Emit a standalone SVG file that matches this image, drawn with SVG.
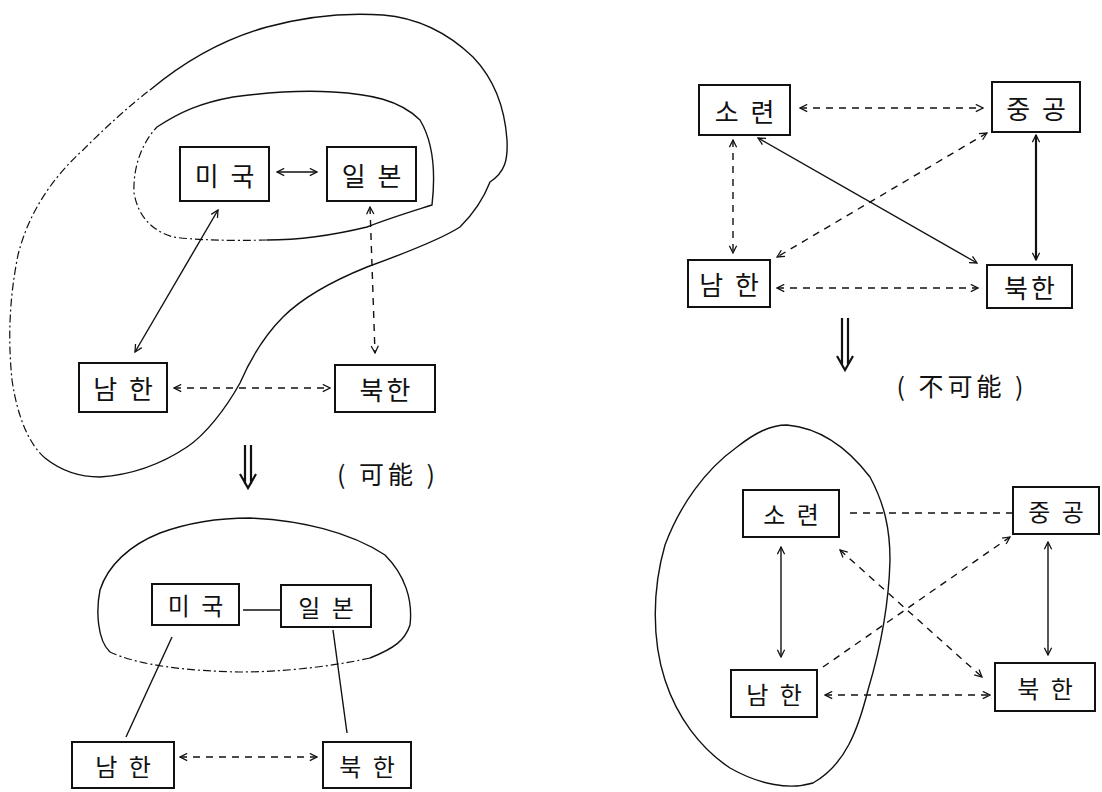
<svg xmlns="http://www.w3.org/2000/svg" width="1102" height="792" viewBox="0 0 1102 792">
<style>
.box{fill:#fff;stroke:#111;stroke-width:2}
.t{font-family:"Noto Sans CJK KR","Noto Sans CJK SC",sans-serif;font-size:26px;fill:#111;text-anchor:middle;dominant-baseline:central;letter-spacing:3px}
.ts{font-size:24px}
.s{stroke:#111;stroke-width:1.4;fill:none}
.d{stroke:#111;stroke-width:1.4;fill:none;stroke-dasharray:7 6}
.th{stroke-width:2.2}
.loop{stroke:#111;stroke-width:1.4;fill:none}
.loopd{stroke:#111;stroke-width:1.2;fill:none;stroke-dasharray:8 3 2 3}
.lbl{font-family:"Noto Sans CJK KR","Noto Sans CJK SC",sans-serif;font-size:25px;fill:#111;text-anchor:middle;dominant-baseline:central;letter-spacing:4px}
</style>
<defs>
<marker id="a" viewBox="0 0 10 10" refX="9" refY="5" markerWidth="9" markerHeight="9" markerUnits="userSpaceOnUse" orient="auto-start-reverse">
<path d="M1,1 L9,5 L1,9" fill="none" stroke="#111" stroke-width="1.4"/>
</marker>
</defs>

<!-- enclosures -->
<g id="loops">
<path class="loop" d="M150,90 C180,65 220,40 267,27 C300,18 340,12 383,15 C420,18 450,35 473,57 C495,80 505,110 507,140 C508,160 505,172 490,182 C485,195 475,212 460,227 C440,240 400,255 367,267 C330,282 300,300 283,317 C265,335 250,360 240,383 C225,410 205,435 187,447 C160,465 130,475 100,477 C80,477 60,470 45,458"/>
<path class="loopd" d="M45,458 C30,445 18,420 12,380 C8,340 9,300 18,255 C28,215 50,180 83,150 C105,128 130,105 150,90"/>
<path class="loop" d="M157,127 C180,112 200,103 233,97 C270,92 300,90 333,92 C370,94 400,100 420,120 C432,140 436,170 432,205 C410,212 390,218 367,227 C330,236 300,240 267,240"/>
<path class="loopd" d="M267,240 C230,241 195,240 173,237 C150,230 138,215 134,193 C133,170 140,145 157,127"/>
<path class="loop" d="M110,652 C97,640 96,610 100,590 C108,565 130,545 160,533 C190,522 220,518 250,518 C300,520 350,532 385,555 C405,575 413,600 410,625 C405,640 395,648 370,658"/>
<path class="loopd" d="M370,658 C330,667 280,672 240,672 C190,671 140,666 110,652"/>
<path class="loop" d="M787,425 C820,428 847,447 870,477 C885,505 890,530 890,560 C889,600 883,640 868,690 C858,730 845,765 813,783 C790,790 760,785 730,768 C700,748 677,717 665,680 C652,640 652,590 665,545 C680,505 705,470 737,447 C755,433 770,425 787,425 Z"/>
</g>

<!-- connectors -->
<g id="connectors">
<!-- top-left -->
<line class="s" x1="277" y1="172" x2="317" y2="172" marker-start="url(#a)" marker-end="url(#a)"/>
<line class="s" x1="218" y1="210" x2="135" y2="352" marker-start="url(#a)" marker-end="url(#a)"/>
<line class="d" x1="370" y1="207" x2="375" y2="353" marker-start="url(#a)" marker-end="url(#a)"/>
<line class="d" x1="174" y1="388" x2="330" y2="388" marker-start="url(#a)" marker-end="url(#a)"/>
<!-- top-right -->
<line class="d" x1="800" y1="108" x2="983" y2="108" marker-start="url(#a)" marker-end="url(#a)"/>
<line class="d" x1="733" y1="140" x2="733" y2="253" marker-start="url(#a)" marker-end="url(#a)"/>
<line class="s" x1="758" y1="138" x2="977" y2="263" marker-start="url(#a)" marker-end="url(#a)"/>
<line class="d" x1="987" y1="133" x2="777" y2="257" marker-start="url(#a)" marker-end="url(#a)"/>
<line class="s th" x1="1036" y1="135" x2="1036" y2="260" marker-start="url(#a)" marker-end="url(#a)"/>
<line class="d" x1="777" y1="288" x2="978" y2="288" marker-start="url(#a)" marker-end="url(#a)"/>
<!-- bottom-left -->
<line class="s" x1="243" y1="610" x2="280" y2="610"/>
<line class="s" x1="172" y1="637" x2="126" y2="737"/>
<line class="s" x1="333" y1="630" x2="347" y2="733"/>
<line class="d" x1="180" y1="757" x2="317" y2="757" marker-start="url(#a)" marker-end="url(#a)"/>
<!-- bottom-right -->
<line class="d" x1="850" y1="513" x2="1012" y2="513"/>
<line class="s" x1="781" y1="547" x2="781" y2="657" marker-start="url(#a)" marker-end="url(#a)"/>
<line class="s" x1="1048" y1="542" x2="1048" y2="655" marker-start="url(#a)" marker-end="url(#a)"/>
<line class="d" x1="823" y1="667" x2="1010" y2="537" marker-end="url(#a)"/>
<line class="d" x1="840" y1="550" x2="982" y2="677" marker-start="url(#a)" marker-end="url(#a)"/>
<line class="d" x1="825" y1="695" x2="990" y2="695" marker-start="url(#a)" marker-end="url(#a)"/>
</g>

<!-- transition arrows -->
<g id="transitions">
<path class="s th" d="M245,445 V484 M251,445 V484 M240,474 L248,488 L256,474"/>
<path class="s th" d="M842,318 V364 M848,318 V364 M837,356 L845,370 L853,356"/>
</g>

<!-- nodes top-left -->
<g id="tl-usa"><rect class="box" x="180" y="147" width="89" height="54"/><text class="t" x="226" y="174">미 국</text></g>
<g id="tl-japan"><rect class="box" x="327" y="147" width="89" height="54"/><text class="t" x="373" y="174">일 본</text></g>
<g id="tl-south"><rect class="box" x="79" y="363" width="88" height="49"/><text class="t" x="124.5" y="387.5">남 한</text></g>
<g id="tl-north"><rect class="box" x="335" y="365" width="100" height="47"/><text class="t" x="386.5" y="388.5">북한</text></g>

<!-- nodes top-right -->
<g id="tr-ussr"><rect class="box" x="699" y="85" width="91" height="50"/><text class="t" x="746" y="110">소 련</text></g>
<g id="tr-china"><rect class="box" x="992" y="82" width="88" height="50"/><text class="t" x="1037.5" y="107">중 공</text></g>
<g id="tr-south"><rect class="box" x="688" y="260" width="82" height="47"/><text class="t" x="730.5" y="283.5">남 한</text></g>
<g id="tr-north"><rect class="box" x="987" y="265" width="85" height="43"/><text class="t" x="1031" y="286.5">북한</text></g>

<!-- nodes bottom-left -->
<g id="bl-usa"><rect class="box" x="152" y="584" width="87" height="41"/><text class="t ts" x="197" y="604.5">미 국</text></g>
<g id="bl-japan"><rect class="box" x="281" y="585" width="90" height="42"/><text class="t ts" x="327.5" y="606">일 본</text></g>
<g id="bl-south"><rect class="box" x="72" y="742" width="102" height="46"/><text class="t ts" x="124.5" y="765">남 한</text></g>
<g id="bl-north"><rect class="box" x="323" y="742" width="88" height="46"/><text class="t ts" x="368.5" y="765">북 한</text></g>

<!-- nodes bottom-right -->
<g id="br-ussr"><rect class="box" x="743" y="490" width="96" height="47"/><text class="t ts" x="792.5" y="513.5">소 련</text></g>
<g id="br-china"><rect class="box" x="1013" y="487" width="86" height="47"/><text class="t ts" x="1057.5" y="510.5">중 공</text></g>
<g id="br-south"><rect class="box" x="731" y="670" width="86" height="47"/><text class="t ts" x="775.5" y="693.5">남 한</text></g>
<g id="br-north"><rect class="box" x="995" y="663" width="100" height="48"/><text class="t ts" x="1046.5" y="687">북 한</text></g>

<!-- labels -->
<text class="lbl" x="388" y="473">( 可能 )</text>
<text class="lbl" x="962" y="385">( 不可能 )</text>
</svg>
